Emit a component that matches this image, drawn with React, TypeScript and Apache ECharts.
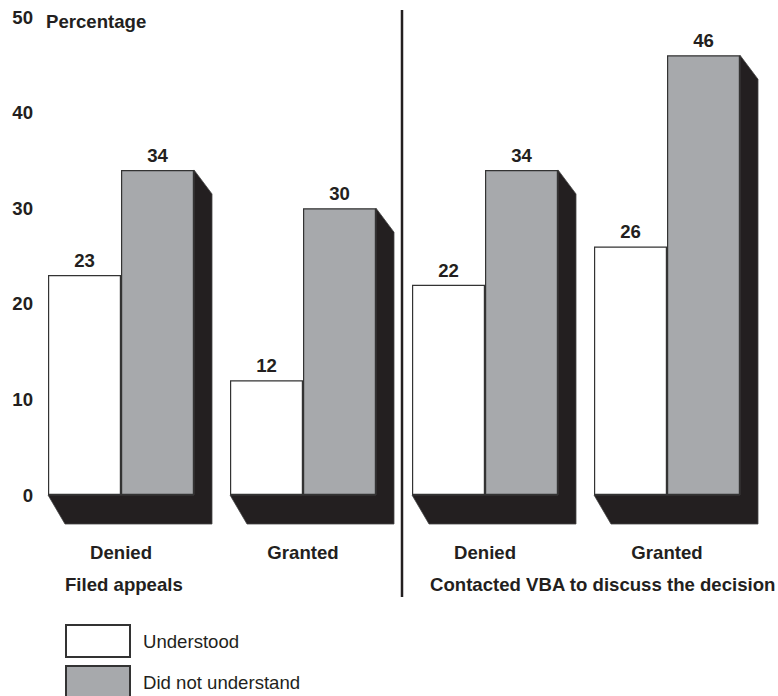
import React, { useEffect, useRef } from "react";
import * as echarts from "echarts";

const categories = ["Denied", "Granted", "Denied", "Granted"];
const understood = [23, 12, 22, 26];
const notUnderstood = [34, 30, 34, 46];
const yTicks = [0, 10, 20, 30, 40, 50];
const seriesNames = ["Understood", "Did not understand"];
const groupLabels = ["Filed appeals", "Contacted VBA to discuss the decision"];
const axisTitle = "Percentage";

const DARK = "#231f20";
const GRAY = "#a7a9ac";
const FONT = "'Liberation Sans', Arial, Helvetica, sans-serif";
const BAR_W = 73;
const FS = 18.6;

export default function App() {
  const ref = useRef<HTMLDivElement>(null);
  useEffect(() => {
    if (!ref.current) return;
    const chart = echarts.init(ref.current, undefined, { renderer: "svg" });
    const shadowData = notUnderstood.map((v, i) => [i, v]);
    const legendCommon = {
      orient: "vertical",
      left: 65,
      padding: 0,
      itemWidth: 64,
      itemHeight: 32,
      icon: "rect",
      textStyle: {
        fontSize: FS,
        color: DARK,
        fontFamily: FONT,
        padding: [0, 0, 0, 8],
      },
    };
    chart.setOption({
      animation: false,
      backgroundColor: "#ffffff",
      textStyle: { fontFamily: FONT },
      grid: { left: 30, width: 728, top: 17, height: 478 },
      xAxis: {
        type: "category",
        data: categories,
        axisLine: { show: false },
        axisTick: { show: false },
        axisLabel: {
          margin: 48,
          fontSize: FS,
          fontWeight: "bold",
          color: DARK,
          fontFamily: FONT,
        },
      },
      yAxis: {
        type: "value",
        min: yTicks[0],
        max: yTicks[yTicks.length - 1],
        interval: 10,
        axisLine: { show: false },
        axisTick: { show: false },
        splitLine: { show: false },
        axisLabel: {
          margin: -3,
          fontSize: FS,
          fontWeight: "bold",
          color: DARK,
          fontFamily: FONT,
          padding: [6, 0, 0, 0],
        },
      },
      legend: [
        { ...legendCommon, data: [seriesNames[0]], top: 624 },
        { ...legendCommon, data: [seriesNames[1]], top: 665 },
      ],
      graphic: [
        {
          type: "text",
          left: 46,
          top: 12,
          style: {
            text: axisTitle,
            font: `bold ${FS}px ${FONT}`,
            fill: DARK,
          },
        },
        {
          type: "text",
          left: 65,
          top: 575,
          style: {
            text: groupLabels[0],
            font: `bold ${FS}px ${FONT}`,
            fill: DARK,
          },
        },
        {
          type: "text",
          left: 430,
          top: 575,
          style: {
            text: groupLabels[1],
            font: `bold ${FS}px ${FONT}`,
            fill: DARK,
          },
        },
        {
          type: "line",
          shape: { x1: 402, y1: 10, x2: 402, y2: 597 },
          style: { stroke: DARK, lineWidth: 2.5 },
        },
      ],
      series: [
        {
          type: "custom",
          name: "shadow",
          z: 1,
          data: shadowData,
          encode: { x: 0, y: 1 },
          silent: true,
          renderItem: (params: any, api: any) => {
            const base = api.coord([api.value(0), 0]);
            const top = api.coord([api.value(0), api.value(1)]);
            const L = base[0] - BAR_W;
            const R = base[0] + BAR_W;
            const b = base[1];
            const t = top[1];
            return {
              type: "polygon",
              shape: {
                points: [
                  [L, b],
                  [L + 17, b + 29],
                  [R + 18, b + 29],
                  [R + 18, t + 24],
                  [R, t],
                  [R, b],
                ],
              },
              style: { fill: DARK, stroke: "#444", lineWidth: 0.8 },
            };
          },
        },
        {
          type: "bar",
          name: seriesNames[0],
          z: 3,
          data: understood,
          barWidth: BAR_W,
          barGap: "0%",
          itemStyle: { color: "#ffffff", borderColor: "#333333", borderWidth: 1.2 },
          label: {
            show: true,
            position: "top",
            distance: 5,
            fontSize: FS,
            fontWeight: "bold",
            color: DARK,
            fontFamily: FONT,
          },
        },
        {
          type: "bar",
          name: seriesNames[1],
          z: 3,
          data: notUnderstood,
          barWidth: BAR_W,
          barGap: "0%",
          itemStyle: { color: GRAY, borderColor: "#333333", borderWidth: 1.2 },
          label: {
            show: true,
            position: "top",
            distance: 5,
            fontSize: FS,
            fontWeight: "bold",
            color: DARK,
            fontFamily: FONT,
          },
        },
      ],
    });
    return () => chart.dispose();
  }, []);
  return (
    <div
      ref={ref}
      style={{ position: "fixed", left: 0, top: 0, width: 778, height: 696 }}
    />
  );
}
